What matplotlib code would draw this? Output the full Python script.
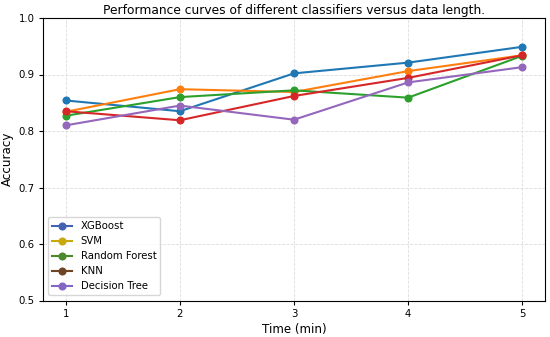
import matplotlib
matplotlib.use("Agg")
import matplotlib.pyplot as plt
from matplotlib.lines import Line2D

times = [1, 2, 3, 4, 5]
names = ["XGBoost", "SVM", "Random Forest", "KNN", "Decision Tree"]
xgb = [0.854, 0.835, 0.902, 0.921, 0.949]
svm = [0.834, 0.874, 0.869, 0.906, 0.934]
rf = [0.827, 0.860, 0.872, 0.859, 0.933]
knn = [0.835, 0.819, 0.862, 0.894, 0.934]
dt = [0.810, 0.845, 0.820, 0.886, 0.913]
series = [xgb, svm, rf, knn, dt]
line_colors = ["#1f77b4", "#ff7f0e", "#2ca02c", "#d62728", "#9467bd"]
legend_colors = ["#4263b0", "#c9a80c", "#4a8a2a", "#6e4424", "#8466c4"]

fig = plt.figure(figsize=(5.5, 3.37), dpi=100)
ax = fig.add_axes([43/550, 1-300.5/337, (545-43)/550, (300.5-18)/337])
for vals, c in zip(series, line_colors):
    ax.plot(times, vals, marker="o", color=c, linewidth=1.5, markersize=4.8)

ax.set_ylim(0.5, 1.0)
ax.set_xlim(0.8, 5.2)
ax.set_xticks(times)
ax.set_yticks([0.5, 0.6, 0.7, 0.8, 0.9, 1.0])
ax.tick_params(labelsize=7.3, length=3, pad=3)
ax.grid(True, linestyle="--", color="#dddddd", linewidth=0.6)
ax.set_title("Performance curves of different classifiers versus data length.", fontsize=8.8, pad=3)
ax.set_xlabel("Time (min)", fontsize=8.6, labelpad=3)
ax.set_ylabel("Accuracy", fontsize=8.6, labelpad=3)

handles = [Line2D([0], [0], color=c, marker="o", linewidth=1.5, markersize=4.8) for c in legend_colors]
ax.legend(handles, names, loc="lower left", fontsize=7.3, framealpha=0.8)

fig.savefig("out.png", dpi=100)
